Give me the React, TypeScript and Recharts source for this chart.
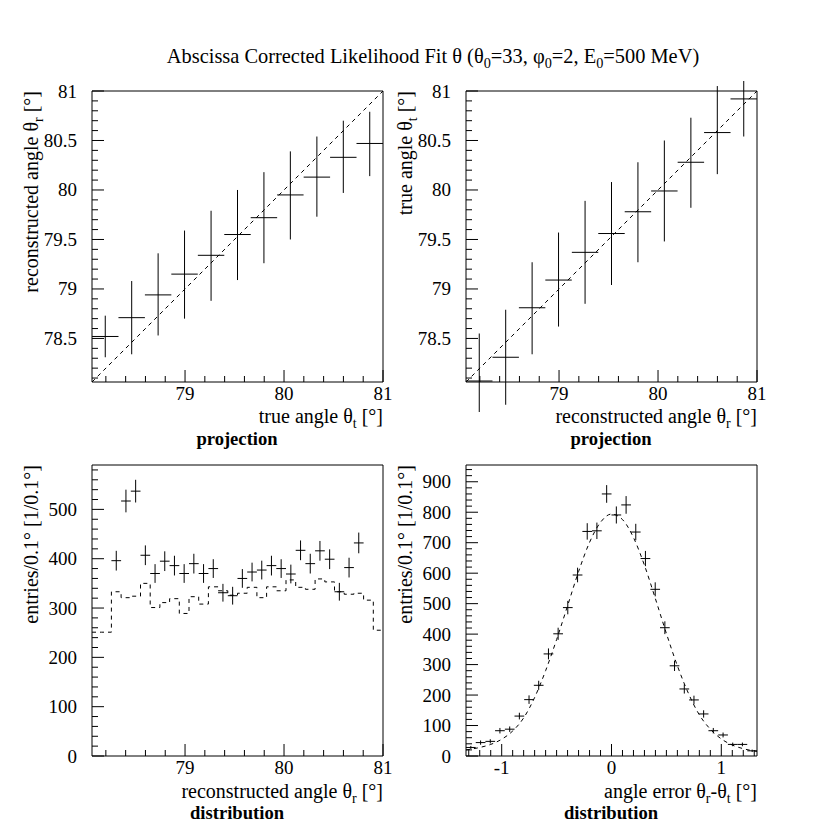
import React from 'react';
import { ComposedChart, Scatter, Line, XAxis, YAxis, ErrorBar, ReferenceArea } from 'recharts';

const FONT = '"Liberation Serif", "Times New Roman", Times, serif';

// ---------- projection panels: 11 bins over 78.06 .. 81 ----------
const angleDomain: [number, number] = [78.06, 81];
const projCenters = [78.194, 78.461, 78.728, 78.995, 79.263, 79.53, 79.797, 80.064, 80.332, 80.599, 80.866];
const projHalfBin = 0.1336;

// reconstructed angle vs true angle (mean, lower and upper end of the bar)
const recoMean = [78.52, 78.71, 78.94, 79.15, 79.34, 79.55, 79.72, 79.95, 80.13, 80.33, 80.47];
const recoLow = [78.31, 78.34, 78.53, 78.7, 78.88, 79.09, 79.26, 79.5, 79.73, 79.97, 80.14];
const recoHigh = [78.73, 79.08, 79.36, 79.59, 79.79, 80.0, 80.18, 80.39, 80.54, 80.7, 80.79];

// true angle vs reconstructed angle
const trueMean = [78.07, 78.31, 78.81, 79.09, 79.37, 79.56, 79.78, 79.99, 80.28, 80.58, 80.92];
const trueLow = [77.6, 77.83, 78.34, 78.62, 78.85, 79.04, 79.27, 79.48, 79.82, 80.16, 80.54];
const trueHigh = [78.55, 78.79, 79.27, 79.57, 79.89, 80.08, 80.28, 80.5, 80.73, 81.05, 81.3];

const diagonal = [78.06, 81];

const angleXLabels = [79, 80, 81];
const angleYLabels = [78.5, 79, 79.5, 80, 80.5, 81];

// ---------- reconstructed angle distribution: 30 bins ----------
const distCenters = [
  78.109, 78.207, 78.305, 78.403, 78.501, 78.599, 78.697, 78.795, 78.893, 78.991,
  79.089, 79.187, 79.285, 79.383, 79.481, 79.579, 79.677, 79.775, 79.873, 79.971,
  80.069, 80.167, 80.265, 80.363, 80.461, 80.559, 80.657, 80.755, 80.853, 80.951,
];
const distHalfBin = 0.049;
// points with errors (bins 3..28)
const distCounts = [
  396, 517, 537, 407, 370, 395, 386, 370, 390, 370, 380, 331, 325,
  360, 373, 377, 386, 380, 369, 417, 390, 416, 399, 333, 382, 432,
];
const distErrors = [
  20, 23, 23, 20, 19, 20, 20, 19, 20, 19, 19, 18, 18,
  19, 19, 19, 20, 19, 19, 20, 20, 20, 20, 18, 20, 21,
];
// dashed reference histogram
const distRef = [
  251, 251, 333, 321, 324, 350, 301, 311, 319, 289, 323, 308, 343, 335, 326,
  330, 342, 321, 343, 335, 357, 342, 338, 359, 353, 333, 328, 330, 316, 255,
];
const distYLabels = [0, 100, 200, 300, 400, 500];

// ---------- angle error distribution: 30 bins ----------
const errDomain: [number, number] = [-1.325, 1.325];
const errCenters = [
  -1.281, -1.192, -1.104, -1.016, -0.927, -0.839, -0.751, -0.663, -0.574, -0.486,
  -0.398, -0.309, -0.221, -0.133, -0.044, 0.044, 0.133, 0.221, 0.309, 0.398,
  0.486, 0.574, 0.663, 0.751, 0.839, 0.927, 1.016, 1.104, 1.192, 1.281,
];
const errHalfBin = 0.0442;
const errCounts = [
  28, 44, 48, 83, 88, 131, 185, 232, 335, 401, 487, 594, 737, 739, 860,
  791, 824, 735, 648, 547, 421, 296, 220, 184, 138, 83, 69, 38, 38, 17,
];
const errErrors = [
  5, 7, 7, 9, 9, 11, 14, 15, 18, 20, 22, 24, 27, 27, 29,
  28, 29, 27, 25, 23, 21, 17, 15, 14, 12, 9, 8, 6, 6, 4,
];
// gaussian fit
const fitX = [-1.325, -1.2, -1.1, -1.0, -0.9, -0.8, -0.7, -0.6, -0.5, -0.4, -0.3, -0.2, -0.1, 0, 0.1, 0.2, 0.3, 0.4, 0.5, 0.6, 0.7, 0.8, 0.9, 1.0, 1.1, 1.2, 1.325];
const fitY = [20, 28, 38, 55, 82, 125, 192, 280, 382, 493, 605, 701, 767, 794, 776, 717, 626, 516, 402, 296, 206, 135, 88, 56, 36, 24, 15];
const errXLabels = [-1, 0, 1];
const errYLabels = [0, 100, 200, 300, 400, 500, 600, 700, 800, 900];

const TICK_FONT = 19;
const LABEL_FONT = 20;

// minor tick helper
const steps = (from: number, to: number, step: number) => {
  const out: number[] = [];
  for (let v = from; v <= to + 1e-9; v += step) out.push(Math.round(v * 1000) / 1000);
  return out;
};

const crossPoints = (xs: number[], ys: number[], lo: number[], hi: number[], hw: number) =>
  xs.map((x, i) => ({ x, y: ys[i], ex: hw, ey: [ys[i] - lo[i], hi[i] - ys[i]] }));

const recoPts = crossPoints(projCenters, recoMean, recoLow, recoHigh, projHalfBin);
const truePts = crossPoints(projCenters, trueMean, trueLow, trueHigh, projHalfBin);
const diagPts = diagonal.map((v) => ({ x: v, y: v }));

const distPts = distCounts.map((c, i) => ({ x: distCenters[i + 2], y: c, ex: distHalfBin, ey: distErrors[i] }));
const distRefPts = [
  ...distRef.map((c, i) => ({ x: distCenters[i] - distHalfBin, y: c })),
  { x: distCenters[distCenters.length - 1] + distHalfBin, y: distRef[distRef.length - 1] },
];

const errPts = errCounts.map((c, i) => ({ x: errCenters[i], y: c, ex: errHalfBin, ey: errErrors[i] }));
const fitPts = fitX.map((x, i) => ({ x, y: fitY[i] }));

const isMajor = (labels: number[], v: number) => labels.some((m) => Math.abs(m - v) < 1e-6);

const makeXTick = (labels: number[]) => (props: any) => {
  const { x, y, payload } = props;
  const major = isMajor(labels, payload.value);
  return (
    <g>
      <line x1={x} x2={x} y1={y} y2={y - (major ? 12 : 6)} stroke="#000" />
      {major && (
        <text x={x} y={y + 18} textAnchor="middle" fontSize={TICK_FONT} style={{ fontFamily: FONT }} fill="#000">
          {String(payload.value)}
        </text>
      )}
    </g>
  );
};

const makeYTick = (labels: number[]) => (props: any) => {
  const { x, y, payload } = props;
  const major = isMajor(labels, payload.value);
  return (
    <g>
      <line x1={x} x2={x + (major ? 12 : 6)} y1={y} y2={y} stroke="#000" />
      {major && (
        <text x={x - 15} y={y} textAnchor="end" dominantBaseline="central" fontSize={TICK_FONT} style={{ fontFamily: FONT }} fill="#000">
          {String(payload.value)}
        </text>
      )}
    </g>
  );
};

const NoDot = () => <g />;

interface PanelProps {
  frameX: number;
  frameY: number;
  xDomain: [number, number];
  yDomain: [number, number];
  xTicks: number[];
  xLabels: number[];
  yTicks: number[];
  yLabels: number[];
  children: React.ReactNode;
}

function Panel({ frameX, frameY, xDomain, yDomain, xTicks, xLabels, yTicks, yLabels, children }: PanelProps) {
  return (
    <div style={{ position: 'absolute', left: frameX - 60, top: frameY - 10 }}>
      <ComposedChart width={381} height={331} margin={{ top: 10, right: 30, bottom: 0, left: 0 }} style={{ overflow: 'visible' }}>
        <XAxis
          dataKey="x"
          type="number"
          domain={xDomain}
          allowDataOverflow
          ticks={xTicks}
          interval={0}
          tickSize={0}
          tickMargin={0}
          axisLine={false}
          tickLine={false}
          tick={makeXTick(xLabels)}
          height={30}
        />
        <YAxis
          dataKey="y"
          type="number"
          domain={yDomain}
          allowDataOverflow
          ticks={yTicks}
          interval={0}
          tickSize={0}
          tickMargin={0}
          axisLine={false}
          tickLine={false}
          tick={makeYTick(yLabels)}
          width={60}
        />
        <ReferenceArea x1={xDomain[0]} x2={xDomain[1]} y1={yDomain[0]} y2={yDomain[1]} fill="none" fillOpacity={0} stroke="#000" strokeWidth={1} />
        {children}
      </ComposedChart>
    </div>
  );
}

type Part = string | { sub: string };

function RichText({ parts, x, y, anchor = 'start', size = LABEL_FONT, bold = false, rotate = false }: {
  parts: Part[]; x: number; y: number; anchor?: string; size?: number; bold?: boolean; rotate?: boolean;
}) {
  let shifted = false;
  const spans = parts.map((p, i) => {
    if (typeof p === 'string') {
      const el = <tspan key={i} dy={shifted ? -5 : 0}>{p}</tspan>;
      shifted = false;
      return el;
    }
    shifted = true;
    return <tspan key={i} dy={5} fontSize={size * 0.7}>{p.sub}</tspan>;
  });
  return (
    <text
      x={x}
      y={y}
      textAnchor={anchor as any}
      fontSize={size}
      style={{ fontFamily: FONT }}
      fontWeight={bold ? 'bold' : 'normal'}
      fill="#000"
      transform={rotate ? `rotate(-90 ${x} ${y})` : undefined}
    >
      {spans}
    </text>
  );
}

export default function App() {
  const angleXTicks = steps(78.2, 81, 0.2);
  const angleYTicks = steps(78.1, 81, 0.1);
  return (
    <div style={{ position: 'absolute', left: 0, top: 0, width: 833, height: 834, background: '#fff', fontFamily: FONT }}>
      <Panel frameX={92} frameY={91} xDomain={angleDomain} yDomain={angleDomain} xTicks={angleXTicks} xLabels={angleXLabels} yTicks={angleYTicks} yLabels={angleYLabels}>
        <Line data={diagPts} dataKey="y" stroke="#000" strokeWidth={1} strokeDasharray="4 4" dot={false} isAnimationActive={false} />
        <Scatter data={recoPts} dataKey="y" shape={NoDot} isAnimationActive={false}>
          <ErrorBar dataKey="ey" direction="y" width={0} stroke="#000" strokeWidth={1} />
          <ErrorBar dataKey="ex" direction="x" width={0} stroke="#000" strokeWidth={1} />
        </Scatter>
      </Panel>

      <Panel frameX={466} frameY={91} xDomain={angleDomain} yDomain={angleDomain} xTicks={angleXTicks} xLabels={angleXLabels} yTicks={angleYTicks} yLabels={angleYLabels}>
        <Line data={diagPts} dataKey="y" stroke="#000" strokeWidth={1} strokeDasharray="4 4" dot={false} isAnimationActive={false} />
        <Scatter data={truePts} dataKey="y" shape={NoDot} isAnimationActive={false}>
          <ErrorBar dataKey="ey" direction="y" width={0} stroke="#000" strokeWidth={1} />
          <ErrorBar dataKey="ex" direction="x" width={0} stroke="#000" strokeWidth={1} />
        </Scatter>
      </Panel>

      <Panel frameX={92} frameY={465} xDomain={angleDomain} yDomain={[0, 590]} xTicks={angleXTicks} xLabels={angleXLabels} yTicks={steps(0, 580, 20)} yLabels={distYLabels}>
        <Line data={distRefPts} dataKey="y" type="stepAfter" stroke="#000" strokeWidth={1} strokeDasharray="4 4" dot={false} isAnimationActive={false} />
        <Scatter data={distPts} dataKey="y" shape={NoDot} isAnimationActive={false}>
          <ErrorBar dataKey="ey" direction="y" width={0} stroke="#000" strokeWidth={1} />
          <ErrorBar dataKey="ex" direction="x" width={0} stroke="#000" strokeWidth={1} />
        </Scatter>
      </Panel>

      <Panel frameX={466} frameY={465} xDomain={errDomain} yDomain={[0, 955]} xTicks={steps(-1.3, 1.3, 0.1)} xLabels={errXLabels} yTicks={steps(0, 940, 20)} yLabels={errYLabels}>
        <Line data={fitPts} dataKey="y" type="monotone" stroke="#000" strokeWidth={1} strokeDasharray="4 4" dot={false} isAnimationActive={false} />
        <Scatter data={errPts} dataKey="y" shape={NoDot} isAnimationActive={false}>
          <ErrorBar dataKey="ey" direction="y" width={0} stroke="#000" strokeWidth={1} />
          <ErrorBar dataKey="ex" direction="x" width={0} stroke="#000" strokeWidth={1} />
        </Scatter>
      </Panel>

      <svg width={833} height={834} style={{ position: 'absolute', left: 0, top: 0, pointerEvents: 'none' }}>
        <RichText
          x={433}
          y={63}
          anchor="middle"
          size={20.4}
          parts={['Abscissa Corrected Likelihood Fit θ (θ', { sub: '0' }, '=33, φ', { sub: '0' }, '=2, E', { sub: '0' }, '=500 MeV)']}
        />
        <RichText x={38} y={91} anchor="end" rotate parts={['reconstructed angle θ', { sub: 'r' }, ' [°]']} />
        <RichText x={412} y={91} anchor="end" rotate parts={['true angle θ', { sub: 't' }, ' [°]']} />
        <RichText x={38} y={465} anchor="end" rotate parts={['entries/0.1° [1/0.1°]']} />
        <RichText x={412} y={465} anchor="end" rotate parts={['entries/0.1° [1/0.1°]']} />

        <RichText x={383} y={423} anchor="end" parts={['true angle θ', { sub: 't' }, ' [°]']} />
        <RichText x={757} y={423} anchor="end" parts={['reconstructed angle θ', { sub: 'r' }, ' [°]']} />
        <RichText x={383} y={798} anchor="end" parts={['reconstructed angle θ', { sub: 'r' }, ' [°]']} />
        <RichText x={757} y={798} anchor="end" parts={['angle error θ', { sub: 'r' }, '-θ', { sub: 't' }, ' [°]']} />

        <RichText x={237} y={445} anchor="middle" bold size={18.6} parts={['projection']} />
        <RichText x={611} y={445} anchor="middle" bold size={18.6} parts={['projection']} />
        <RichText x={237} y={819} anchor="middle" bold size={18.6} parts={['distribution']} />
        <RichText x={611} y={819} anchor="middle" bold size={18.6} parts={['distribution']} />
      </svg>
    </div>
  );
}
